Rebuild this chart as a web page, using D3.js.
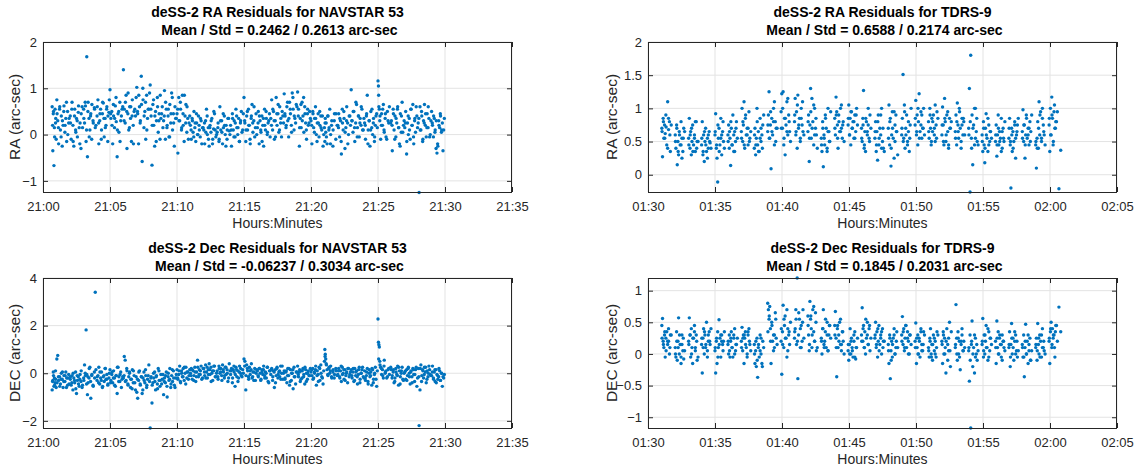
<!DOCTYPE html>
<html>
<head>
<meta charset="utf-8">
<script src="https://cdn.jsdelivr.net/npm/d3@7"></script>
<style>
  body { margin: 0; background: #fff; }
  svg { display: block; font-family: "Liberation Sans", Arial, Helvetica, sans-serif; }
</style>
</head>
<body>
<div id="fig"></div>
<script>
// NAVSTAR 53 pass: seconds after 21:00:00, residuals in 0.01 arc-sec
var navTime = [
  41,44,46,49,51,54,56,59,
  62,66,70,74,78,82,86,90,94,98,102,106,110,115,
  122,126,130,134,138,142,146,150,154,158,162,166,170,175,
  182,186,190,193,196,199,202,206,210,214,218,224,230,234,
  242,246,250,254,258,262,266,270,274,278,282,286,290,295,
  300,304,308,312,316,320,324,328,332,336,340,344,348,354,
  360,364,368,372,376,380,384,388,392,396,400,404,408,414,
  420,424,428,432,436,440,444,448,452,456,460,464,468,474,
  480,484,488,492,496,500,504,508,512,516,520,524,528,534,
  540,544,548,552,556,560,564,568,572,576,580,584,588,594,
  600,604,608,612,616,620,624,628,632,636,640,644,648,654,
  660,664,668,672,676,680,684,688,692,696,700,704,708,714,
  720,724,728,732,736,740,744,748,752,756,760,764,768,774,
  780,784,788,792,796,800,804,808,812,816,820,824,828,834,
  840,844,848,852,856,860,864,868,872,876,880,884,888,894,
  900,904,908,912,916,920,924,928,932,936,940,944,948,954,
  960,964,968,972,976,980,984,988,992,996,1000,1004,1008,1014,
  1020,1024,1028,1032,1036,1040,1044,1048,1052,1056,1060,1064,1068,1074,
  1080,1084,1088,1092,1096,1100,1104,1108,1112,1116,1120,1124,1128,1134,
  1140,1144,1148,1152,1156,1160,1164,1168,1172,1176,1180,1184,1188,1194,
  1200,1204,1208,1212,1216,1220,1224,1228,1232,1236,1240,1244,1248,1254,
  1260,1262,1264,1266,1268,1272,1276,1280,1284,1288,1292,1298,1304,1312,
  1320,1324,1328,1332,1336,1340,1344,1348,1352,1356,1360,1364,1368,1374,
  1380,1384,1388,1392,1396,1400,1404,1408,1412,1416,1420,1424,1428,1434,
  1440,1444,1448,1452,1456,1460,1464,1468,1472,1476,1480,1484,1488,1494,
  1500,1502,1504,1506,1508,1512,1516,1520,1524,1528,1532,1536,1542,1548,
  1560,1564,1568,1572,1576,1580,1584,1588,1592,1596,1600,1604,1608,1614,
  1620,1624,1628,1632,1636,1640,1644,1648,1652,1656,1660,1664,1668,1674,
  1680,1684,1688,1692,1696,1700,1704,1708,1712,1716,1720,1724,1728,1734,
  1740,1744,1748,1752,1756,1760,1764,1768,1772,1776,1780,1784,1788,1794,
  // second batch of observations, interleaved in time
  43,47,52,57,
  63,69,75,81,87,93,99,105,111,117,
  123,129,135,141,147,153,159,165,171,177,
  183,189,195,201,207,213,219,225,231,237,
  243,249,255,261,267,273,279,285,291,297,
  303,309,315,321,327,333,339,345,351,357,
  363,369,375,381,387,393,399,405,411,417,
  423,429,435,441,447,453,459,465,471,477,
  483,489,495,501,507,513,519,525,531,537,
  543,549,555,561,567,573,579,585,591,597,
  603,609,615,621,627,633,639,645,651,657,
  663,669,675,681,687,693,699,705,711,717,
  723,729,735,741,747,753,759,765,771,777,
  783,789,795,801,807,813,819,825,831,837,
  843,849,855,861,867,873,879,885,891,897,
  903,909,915,921,927,933,939,945,951,957,
  963,969,975,981,987,993,999,1005,1011,1017,
  1023,1029,1035,1041,1047,1053,1059,1065,1071,1077,
  1083,1089,1095,1101,1107,1113,1119,1125,1131,1137,
  1143,1149,1155,1161,1167,1173,1179,1185,1191,1197,
  1203,1209,1215,1221,1227,1233,1239,1245,1251,1257,
  1263,1269,1275,1281,1287,1293,1299,1305,1311,1317,
  1323,1329,1335,1341,1347,1353,1359,1365,1371,1377,
  1383,1389,1395,1401,1407,1413,1419,1425,1431,1437,
  1443,1449,1455,1461,1467,1473,1479,1485,1491,1497,
  1503,1509,1515,1521,1527,1533,1539,1545,1551,1557,
  1563,1569,1575,1581,1587,1593,1599,1605,1611,1617,
  1623,1629,1635,1641,1647,1653,1659,1665,1671,1677,
  1683,1689,1695,1701,1707,1713,1719,1725,1731,1737,
  1743,1749,1755,1761,1767,1773,1779,1785,1791,1797
];
var navRA = [
  60,-35,45,-67,15,55,25,-10,
  75,30,-20,55,10,40,-25,20,62,5,35,-15,50,25,
  40,-10,70,20,-25,55,10,35,-5,48,15,25,-30,60,
  55,25,62,-15,168,-48,70,35,10,45,-10,30,58,15,
  40,75,-20,30,55,10,45,68,-5,35,20,60,-15,48,
  97,35,50,-20,40,15,62,28,-48,45,5,70,30,55,
  140,55,25,85,-30,45,10,60,35,-15,75,20,50,40,
  102,45,-20,60,30,126,-58,75,15,50,-10,85,35,55,
  107,40,-66,65,20,-25,50,30,80,5,45,-10,35,60,
  30,95,-10,55,20,40,-5,65,25,90,10,45,-25,35,
  45,-40,80,30,55,10,85,20,-15,40,65,5,35,25,
  20,-10,35,5,50,15,-15,25,0,40,10,-5,30,15,
  10,-20,30,55,0,15,-25,20,5,35,-10,12,45,-5,
  5,25,-15,60,10,30,-20,15,40,0,20,-10,35,8,
  20,-25,45,10,30,-5,55,15,0,35,-15,25,50,10,
  80,25,-15,40,10,55,20,-20,35,65,5,30,-5,45,
  15,50,-20,30,5,40,20,-25,55,10,35,0,25,45,
  35,75,10,50,-10,30,80,20,45,5,60,25,-5,40,
  88,40,15,60,30,-5,70,45,20,90,55,10,35,65,
  92,55,-25,35,15,70,40,5,60,25,-10,45,20,50,
  30,-20,50,15,35,60,0,25,45,-5,20,40,10,-25,
  15,-15,35,5,25,-20,40,10,55,0,20,-25,30,45,
  20,45,-5,30,-42,55,10,35,-30,15,60,25,0,40,
  97,30,5,50,-15,25,65,15,40,-5,35,20,55,10,
  25,-10,40,85,10,30,-25,50,15,0,35,-15,20,45,
  116,105,60,55,30,-10,45,20,65,5,35,-5,50,25,
  30,-35,55,10,40,-5,25,60,15,-20,45,5,70,20,
  15,50,-42,25,0,35,-10,55,20,65,-20,30,5,40,
  25,-125,60,10,40,-15,30,65,20,-5,45,15,35,0,
  50,20,-5,35,10,-30,-40,-25,30,15,40,5,25,10,
  20,50,-5,35,
  45,15,60,-5,30,50,20,70,0,35,
  25,55,-15,40,5,30,62,-20,45,15,
  35,70,10,50,-5,40,65,25,55,20,
  60,25,45,-10,70,35,15,55,40,75,
  45,20,65,35,80,10,50,-15,40,60,
  30,70,50,90,15,60,40,-20,55,80,
  50,85,25,65,100,40,70,10,55,90,
  55,20,75,40,-15,60,30,85,45,15,
  40,70,15,55,-5,45,80,25,60,35,
  55,30,70,15,45,85,25,60,-10,40,
  10,30,-5,25,45,0,20,35,-20,15,
  25,5,40,-10,15,30,-20,50,10,0,
  15,-10,30,5,45,20,-25,10,35,0,
  10,35,-5,25,40,15,-15,30,5,45,
  30,10,50,20,-10,40,25,60,15,0,
  25,40,10,-15,35,20,50,5,30,-5,
  20,55,30,-5,45,65,10,35,50,25,
  45,20,70,35,55,5,80,40,25,60,
  40,15,65,30,80,45,10,55,25,35,
  20,45,5,35,-15,25,50,15,40,0,
  25,-5,40,15,-20,30,10,45,-10,20,
  15,35,-15,25,50,5,30,-20,40,20,
  30,50,15,70,-5,40,25,60,10,35,
  20,45,-20,30,10,55,25,-5,40,15,
  85,40,20,55,10,45,-10,30,60,25,
  20,45,-10,35,55,15,-25,40,5,30,
  25,-15,40,10,55,20,-5,35,60,15,
  35,10,50,-10,25,45,15,60,-5,30,
  25,40,5,30,-20,20,45,10,-35,35
];
var navDec = [
  -70,-30,5,-55,-20,-40,10,-60,
  60,75,-30,-15,-45,0,-25,-60,-10,-35,5,-20,-50,-5,
  -25,-50,-10,-70,-20,-40,5,-85,-30,-15,-55,-5,-35,-60,
  -20,35,-10,182,-5,-90,-40,-20,25,-105,-10,-50,5,340,
  -30,-10,25,-45,-20,5,-60,-15,-35,20,-25,-5,-50,-20,
  15,-30,-5,-40,10,-20,-55,-10,-85,25,-15,-35,5,-25,
  -20,70,55,-30,10,-45,-15,5,-60,-25,15,-40,-10,-70,
  -80,-105,-30,10,-50,-15,-85,-20,5,-40,-10,-60,-25,35,
  -230,-15,-125,-40,-20,5,-70,-10,-45,20,-30,-55,-5,-25,
  -90,-20,-40,5,-100,-15,-30,20,-60,-10,-35,10,-50,-20,
  15,-25,-5,30,-40,10,-15,20,-30,0,25,-20,5,-10,
  0,20,-25,10,-10,25,-35,5,55,-15,15,-5,30,-20,
  20,-10,35,5,-20,15,40,-5,25,0,-30,10,30,-15,
  10,-25,30,0,20,-10,35,5,-20,25,-5,15,-35,40,
  -5,20,-40,15,5,-55,25,-15,10,-20,30,0,-10,15,
  60,50,-70,35,10,-15,25,-5,15,-20,5,-30,20,0,
  10,-15,20,0,-25,15,-5,30,-10,5,-20,25,-35,10,
  -5,20,-30,10,-60,15,-10,25,-20,5,-15,30,0,-25,
  10,-20,5,-40,20,-10,-50,15,-30,0,-65,25,-15,5,
  30,-15,5,-35,10,-20,20,-5,-45,15,0,-25,10,-10,
  5,-10,20,-20,0,15,-50,10,-5,25,-30,35,-15,-45,
  50,100,80,60,40,15,-10,20,0,30,-15,5,-20,10,
  -5,20,-15,10,-35,25,0,-25,15,-10,5,-40,20,-5,
  15,-20,5,-35,20,-10,10,-45,-5,25,-25,0,15,-15,
  10,-30,-10,20,-45,0,-15,5,-50,15,-25,-5,25,-55,
  228,130,120,110,50,25,-5,15,-20,55,0,10,-15,20,
  15,-10,5,-40,-20,20,-5,30,-50,10,-15,0,25,-30,
  5,-25,15,-10,25,0,-45,10,-15,20,-5,-35,15,-55,
  20,-220,-70,35,-10,15,-20,25,5,-40,10,-15,30,-5,
  -10,30,-20,5,-35,15,-5,-25,-15,10,-30,0,-55,-20,
  -35,-10,-50,-25,
  -40,-15,-55,-25,5,-35,-10,-60,-20,-45,
  -15,-40,0,-30,-65,-10,-45,-25,10,-50,
  -30,0,-45,-15,20,-35,-5,-55,-20,15,
  -15,-40,5,-30,-55,-10,20,-25,-45,0,
  -40,5,-20,-50,-10,25,-35,-5,-60,-15,
  -10,-35,20,-50,0,-25,-65,10,-40,-15,
  -25,5,-45,-15,-70,-30,15,-50,-10,-35,
  -20,-50,0,-35,-15,-65,10,-30,-45,-5,
  -35,-10,-55,0,-25,-45,15,-20,-60,-5,
  -20,10,-35,0,-15,25,-45,5,-25,15,
  -10,15,-30,5,-15,25,-5,10,-25,20,
  5,-20,25,-5,15,-35,10,30,-15,0,
  -15,20,5,-30,15,-10,25,0,-20,10,
  10,-20,30,-5,15,-35,5,20,-15,0,
  30,-10,20,-25,10,40,-15,5,-30,15,
  -10,20,-30,5,15,-20,0,25,-40,10,
  15,-15,5,-40,20,-5,10,-25,30,0,
  -25,10,-10,20,-35,0,15,-15,-45,5,
  -5,15,-25,10,-15,25,-35,0,-10,20,
  15,-25,5,30,-10,-35,20,0,-20,10,
  70,35,-5,25,10,-20,15,-5,20,-10,
  10,-20,30,-5,15,-30,0,20,-15,5,
  -10,20,-30,5,-15,15,-40,0,25,-20,
  -20,5,-35,15,-10,20,-40,0,-25,10,
  60,35,20,-10,30,5,-20,15,-5,25,
  -20,15,-35,5,-10,25,-45,10,-25,0,
  10,-30,20,-15,5,-40,15,-5,25,-20,
  -15,20,-35,10,-5,25,-25,0,15,-10,
  5,-25,15,-40,-10,20,-30,0,-15,-5
];

// TDRS-9 pass: seconds after 01:30:00, residuals in 0.01 arc-sec
var tdrsTime = [
  62,65,68,71,74,77,80,84,88,92,96,100,
  122,125,128,131,134,137,140,144,148,152,156,160,
  182,185,188,191,194,197,200,204,208,212,216,220,
  240,243,246,249,252,255,258,262,266,270,274,278,
  300,303,306,309,312,315,318,322,326,330,334,338,
  358,361,364,367,370,373,376,380,384,388,392,396,
  418,421,424,427,430,433,436,440,444,448,452,456,
  476,479,482,485,488,491,494,498,502,506,510,514,
  536,539,542,545,548,551,554,558,562,566,570,574,
  596,599,602,605,608,611,614,618,622,626,630,634,
  656,659,662,665,668,671,674,678,682,686,690,694,
  716,719,722,725,728,731,734,738,742,746,750,754,
  776,779,782,785,788,791,794,798,802,806,810,814,
  836,839,842,845,848,851,854,858,862,866,870,874,
  896,899,902,905,908,911,914,918,922,926,930,934,
  956,959,962,965,968,971,974,978,982,986,990,994,
  1016,1019,1022,1025,1028,1031,1034,1038,1042,1046,1050,1054,
  1076,1079,1082,1085,1088,1091,1094,1098,1102,1106,1110,1114,
  1136,1139,1142,1145,1148,1151,1154,1158,1162,1166,1170,1174,
  1196,1199,1202,1205,1208,1211,1214,1218,1222,1226,1230,1234,
  1256,1259,1262,1265,1268,1271,1274,1278,1282,1286,1290,1294,
  1316,1319,1322,1325,1328,1331,1334,1338,1342,1346,1350,1354,
  1376,1379,1382,1385,1388,1391,1394,1398,1402,1406,1410,1414,
  1436,1439,1442,1445,1448,1451,1454,1458,1462,1466,1470,1474,
  1496,1499,1502,1505,1508,1511,1514,1518,1522,1526,1530,1534,
  1556,1559,1562,1565,1568,1571,1574,1578,1582,1586,1590,1594,
  1616,1619,1622,1625,1628,1631,1634,1638,1642,1646,1650,1654,
  1676,1679,1682,1685,1688,1691,1694,1698,1702,1706,1710,1714,
  1736,1739,1742,1745,1748,1751,1754,1758,1762,1766,1770,1774,
  1796,1799,1802,1805,1808,1811,1814,1818,1822,1826,1840,1848,
  // second batch, same clusters
  63,69,75,81,88,92,98,104,
  123,129,135,141,148,152,158,164,
  183,189,195,201,208,212,218,224,
  241,247,253,259,266,270,276,282,
  301,307,313,319,326,330,336,342,
  359,365,371,377,384,388,394,400,
  419,425,431,437,444,448,454,460,
  477,483,489,495,502,506,512,518,
  537,543,549,555,562,566,572,578,
  597,603,609,615,622,626,632,638,
  657,663,669,675,682,686,692,698,
  717,723,729,735,742,746,752,758,
  777,783,789,795,802,806,812,818,
  837,843,849,855,862,866,872,878,
  897,903,909,915,922,926,932,938,
  957,963,969,975,982,986,992,998,
  1017,1023,1029,1035,1042,1046,1052,1058,
  1077,1083,1089,1095,1102,1106,1112,1118,
  1137,1143,1149,1155,1162,1166,1172,1178,
  1197,1203,1209,1215,1222,1226,1232,1238,
  1257,1263,1269,1275,1282,1286,1292,1298,
  1317,1323,1329,1335,1342,1346,1352,1358,
  1377,1383,1389,1395,1402,1406,1412,1418,
  1437,1443,1449,1455,1462,1466,1472,1478,
  1497,1503,1509,1515,1522,1526,1532,1538,
  1557,1563,1569,1575,1582,1586,1592,1598,
  1617,1623,1629,1635,1642,1646,1652,1658,
  1677,1683,1689,1695,1702,1706,1712,1718,
  1737,1743,1749,1755,1762,1766,1772,1778,
  1797,1803,1809,1815,1820,1824,1829,1833
];
var tdrsRA = [
  70,27,85,55,75,62,90,45,110,68,80,35,
  60,40,75,15,50,30,65,45,80,55,35,70,
  55,85,40,65,30,50,75,45,60,35,80,50,
  45,80,30,60,20,50,70,35,55,40,65,48,
  60,92,40,25,-11,55,70,45,85,30,65,50,
  60,75,40,55,14,70,45,90,35,65,50,80,
  65,100,50,75,110,40,85,60,70,45,95,55,
  40,70,30,55,100,45,65,35,85,50,60,75,
  65,90,125,55,75,9,85,60,100,45,80,70,
  95,122,70,125,45,85,30,75,110,60,90,65,
  80,115,60,95,40,120,70,85,55,100,75,65,
  65,90,20,75,130,55,115,80,45,100,70,60,
  55,35,80,12,60,45,90,70,40,100,65,50,
  85,60,117,95,75,40,90,65,100,70,55,80,
  75,105,60,85,45,95,70,80,55,90,65,100,
  70,50,85,127,40,65,35,80,60,75,55,90,
  55,80,35,65,22,90,45,70,60,100,50,40,
  70,105,45,85,13,60,95,55,25,75,90,65,
  60,85,151,55,105,40,70,90,50,65,35,75,
  75,112,60,90,45,80,122,65,95,55,70,100,
  80,55,100,70,45,85,65,90,60,50,75,95,
  60,102,75,45,115,80,50,90,65,40,85,70,
  65,90,45,108,75,55,100,70,40,85,60,80,
  70,130,-26,180,55,90,15,75,45,100,65,50,
  60,35,80,45,18,70,92,55,35,75,50,65,
  50,75,28,60,90,45,65,55,85,40,70,50,
  55,85,45,-20,70,35,65,50,80,25,60,75,
  65,98,50,75,25,60,90,55,70,45,80,65,
  45,10,55,80,40,110,60,95,50,100,75,60,
  75,35,100,60,117,85,45,95,70,80,-21,37,
  65,80,55,72,40,85,60,75,
  50,70,35,60,45,25,55,65,
  45,60,70,35,55,80,40,50,
  55,35,65,45,25,60,50,40,
  65,45,75,35,55,60,80,40,
  50,65,80,45,60,35,70,55,
  55,80,45,90,60,70,50,65,
  60,45,80,35,55,70,40,90,
  75,55,95,65,80,110,50,70,
  70,100,55,85,65,115,80,50,
  90,65,105,75,50,85,110,60,
  80,55,95,70,105,60,85,40,
  45,70,55,85,35,65,50,95,
  70,90,55,80,65,105,75,50,
  85,60,95,70,80,55,90,75,
  55,75,45,85,65,100,50,70,
  65,45,80,55,90,40,70,35,
  55,80,40,70,95,50,65,30,
  70,50,95,60,45,80,55,100,
  85,65,100,55,75,90,70,60,
  65,90,50,80,70,105,55,85,
  75,50,85,60,95,45,70,80,
  55,80,65,95,50,75,85,60,
  60,80,40,70,100,55,85,45,
  50,70,40,60,85,45,65,55,
  60,45,70,50,35,65,55,80,
  70,50,60,40,75,55,65,85,
  55,75,45,85,60,70,50,90,
  50,40,70,90,55,85,65,45,
  85,60,90,50,105,70,80,95
];
var tdrsDec = [
  45,56,20,10,30,-5,25,35,15,20,0,30,
  10,-5,35,-10,20,57,0,15,-15,30,5,-8,
  20,57,30,-5,40,10,-15,25,45,5,30,-10,
  15,-30,25,40,0,30,10,50,-5,20,35,15,
  5,-30,20,-15,35,10,54,25,-5,30,15,20,
  15,0,30,-5,20,35,10,-5,25,40,5,15,
  20,42,5,30,-15,25,35,10,-5,30,40,15,
  15,-15,5,-20,25,-37,10,-5,30,0,-15,20,
  80,70,55,75,40,-15,50,20,30,10,65,25,
  20,-32,35,77,10,45,60,25,-5,40,30,15,
  25,40,70,15,120,-39,30,55,10,45,20,70,
  60,30,5,83,55,40,10,70,35,20,65,5,
  25,0,40,70,15,20,35,10,50,5,30,45,
  45,67,25,-36,40,10,30,50,15,5,35,20,
  5,-10,15,40,0,25,10,-5,20,35,-8,10,
  30,73,20,45,10,35,0,25,50,15,40,5,
  25,50,10,35,-5,20,45,15,30,0,40,20,
  15,-15,30,-39,5,20,-5,25,40,0,10,35,
  30,59,15,40,5,25,45,10,35,20,0,30,
  20,49,-15,10,30,0,25,-5,40,15,5,35,
  10,-5,25,40,0,15,-10,30,5,20,-5,35,
  20,-15,35,0,25,10,-30,40,15,5,50,-20,
  10,78,25,-10,35,0,20,-25,15,40,5,20,
  5,-43,30,-117,15,52,-20,10,-30,25,0,-10,
  15,56,-5,30,0,20,45,10,-10,35,5,25,
  20,-15,52,10,35,0,25,15,-5,30,20,10,
  10,35,-20,15,48,0,25,-10,20,30,5,-5,
  15,-5,30,-36,10,47,0,20,-15,5,25,-10,
  10,25,-10,48,15,0,30,20,-5,40,10,5,
  20,-15,35,50,10,40,25,30,-5,45,74,35,
  25,15,35,5,20,40,10,30,
  0,20,10,30,-5,15,25,5,
  15,30,0,25,35,10,20,-5,
  25,10,35,15,5,30,20,40,
  10,25,-5,15,30,20,5,35,
  20,5,25,10,30,0,15,25,
  10,25,30,15,0,35,20,5,
  0,20,-10,15,5,25,-20,10,
  35,60,20,45,5,30,55,15,
  40,15,55,25,70,5,35,50,
  35,55,20,65,40,10,50,25,
  45,15,60,30,75,20,50,10,
  20,40,10,55,30,5,45,25,
  30,10,45,20,55,15,35,0,
  15,0,20,5,30,-5,10,25,
  20,40,10,55,30,15,45,25,
  30,15,40,5,25,35,10,20,
  5,25,-10,15,30,0,20,10,
  20,35,10,45,25,0,30,15,
  10,25,0,20,35,5,15,30,
  5,20,-5,15,25,0,10,30,
  15,30,0,20,-10,25,5,35,
  15,0,25,-5,20,30,5,10,
  10,-10,20,0,30,-5,15,5,
  20,5,30,10,40,-5,25,15,
  10,25,0,30,15,-10,20,5,
  15,-5,25,10,35,0,20,5,
  10,-5,20,0,30,15,-10,5,
  15,5,25,-5,30,10,20,0,
  25,40,15,30,10,35,45,20
];

var navTicksY = [-1, 0, 1, 2];
var navDecTicksY = [-2, 0, 2, 4];
var tdrsTicksY = [0, 0.5, 1, 1.5, 2];
var tdrsDecTicksY = [-1, -0.5, 0, 0.5, 1];

var W = 1138, H = 475;
var blue = "#0072BD", ink = "#262626";

function at(h, m, s) { return new Date(2020, 0, 1, h, m, s || 0); }

var panels = [
  { t1: "deSS-2 RA Residuals for NAVSTAR 53", t2: " Mean / Std = 0.2462 / 0.2613 arc-sec", yl: "RA (arc-sec)",
    base: at(21, 0), time: navTime, vals: navRA, x0: at(21, 0), x1: at(21, 35),
    yd: [-1.24, 2], yt: navTicksY, left: 43, right: 512, top: 42, bottom: 192, ylx: 15 },
  { t1: "deSS-2 RA Residuals for TDRS-9", t2: " Mean / Std = 0.6588 / 0.2174 arc-sec", yl: "RA (arc-sec)",
    base: at(1, 30), time: tdrsTime, vals: tdrsRA, x0: at(1, 30), x1: at(2, 5),
    yd: [-0.26, 2], yt: tdrsTicksY, left: 648, right: 1117, top: 42, bottom: 192, ylx: 612 },
  { t1: "deSS-2 Dec Residuals for NAVSTAR 53", t2: " Mean / Std = -0.06237 / 0.3034 arc-sec", yl: "DEC (arc-sec)",
    base: at(21, 0), time: navTime, vals: navDec, x0: at(21, 0), x1: at(21, 35),
    yd: [-2.3, 4], yt: navDecTicksY, left: 43, right: 512, top: 278, bottom: 428, ylx: 15 },
  { t1: "deSS-2 Dec Residuals for TDRS-9", t2: " Mean / Std = 0.1845 / 0.2031 arc-sec", yl: "DEC (arc-sec)",
    base: at(1, 30), time: tdrsTime, vals: tdrsDec, x0: at(1, 30), x1: at(2, 5),
    yd: [-1.17, 1.2], yt: tdrsDecTicksY, left: 648, right: 1117, top: 278, bottom: 428, ylx: 612 }
];

var svg = d3.select("#fig").append("svg").attr("width", W).attr("height", H);

panels.forEach(function(p) {
  var x = d3.scaleTime().domain([p.x0, p.x1]).range([p.left, p.right]);
  var y = d3.scaleLinear().domain(p.yd).range([p.bottom, p.top]);
  var xt = d3.timeMinute.every(5).range(p.x0, d3.timeMinute.offset(p.x1, 1));
  var g = svg.append("g");

  // grid
  g.selectAll(".gx").data(xt).join("line")
    .attr("x1", function(d) { return x(d); }).attr("x2", function(d) { return x(d); })
    .attr("y1", p.top).attr("y2", p.bottom)
    .attr("stroke", "#e3e3e3").attr("stroke-width", 1);
  g.selectAll(".gy").data(p.yt).join("line")
    .attr("x1", p.left).attr("x2", p.right)
    .attr("y1", function(d) { return y(d); }).attr("y2", function(d) { return y(d); })
    .attr("stroke", "#e3e3e3").attr("stroke-width", 1);

  // points
  var n = Math.min(p.time.length, p.vals.length);
  var pts = p.time.slice(0, n).map(function(s, i) {
    return { t: new Date(p.base.getTime() + s * 1000), v: p.vals[i] / 100 };
  });
  g.selectAll("circle").data(pts).join("circle")
    .attr("cx", function(d) { return x(d.t); })
    .attr("cy", function(d) { return y(d.v); })
    .attr("r", 1.7).attr("fill", blue);

  // axes, ticks pointing inward on all four sides
  var fmt = d3.timeFormat("%H:%M");
  var ax = [
    g.append("g").attr("transform", "translate(0," + p.bottom + ")")
      .call(d3.axisBottom(x).tickValues(xt).tickFormat(fmt).tickSizeInner(-5).tickSizeOuter(0).tickPadding(10)),
    g.append("g").attr("transform", "translate(0," + p.top + ")")
      .call(d3.axisTop(x).tickValues(xt).tickFormat("").tickSizeInner(-5).tickSizeOuter(0)),
    g.append("g").attr("transform", "translate(" + p.left + ",0)")
      .call(d3.axisLeft(y).tickValues(p.yt).tickFormat(d3.format("")).tickSizeInner(-5).tickSizeOuter(0).tickPadding(6)),
    g.append("g").attr("transform", "translate(" + p.right + ",0)")
      .call(d3.axisRight(y).tickValues(p.yt).tickFormat("").tickSizeInner(-5).tickSizeOuter(0))
  ];
  ax.forEach(function(a) {
    a.select(".domain").remove();
    a.selectAll("line").attr("stroke", ink);
    a.selectAll("text").attr("fill", ink).style("font-size", "13px");
  });
  g.append("rect").attr("x", p.left + 0.5).attr("y", p.top + 0.5)
    .attr("width", p.right - p.left - 1).attr("height", p.bottom - p.top)
    .attr("fill", "none").attr("stroke", ink).attr("stroke-width", 1);

  // labels
  var cx = (p.left + p.right) / 2;
  g.append("text").attr("x", cx).attr("y", p.top - 25.5).attr("text-anchor", "middle")
    .style("font-size", "14px").style("font-weight", "bold").attr("fill", "#000").text(p.t1);
  g.append("text").attr("x", cx).attr("y", p.top - 7).attr("text-anchor", "middle")
    .style("font-size", "14px").style("font-weight", "bold").attr("fill", "#000")
    .style("white-space", "pre").text(p.t2);
  g.append("text").attr("x", cx).attr("y", p.bottom + 36).attr("text-anchor", "middle")
    .style("font-size", "14px").attr("fill", ink).text("Hours:Minutes");
  g.append("text").attr("transform", "translate(" + (p.ylx + 5) + "," + ((p.top + p.bottom) / 2) + ") rotate(-90)")
    .attr("text-anchor", "middle").style("font-size", "15.5px").attr("fill", ink).text(p.yl);
});
</script>
</body>
</html>
